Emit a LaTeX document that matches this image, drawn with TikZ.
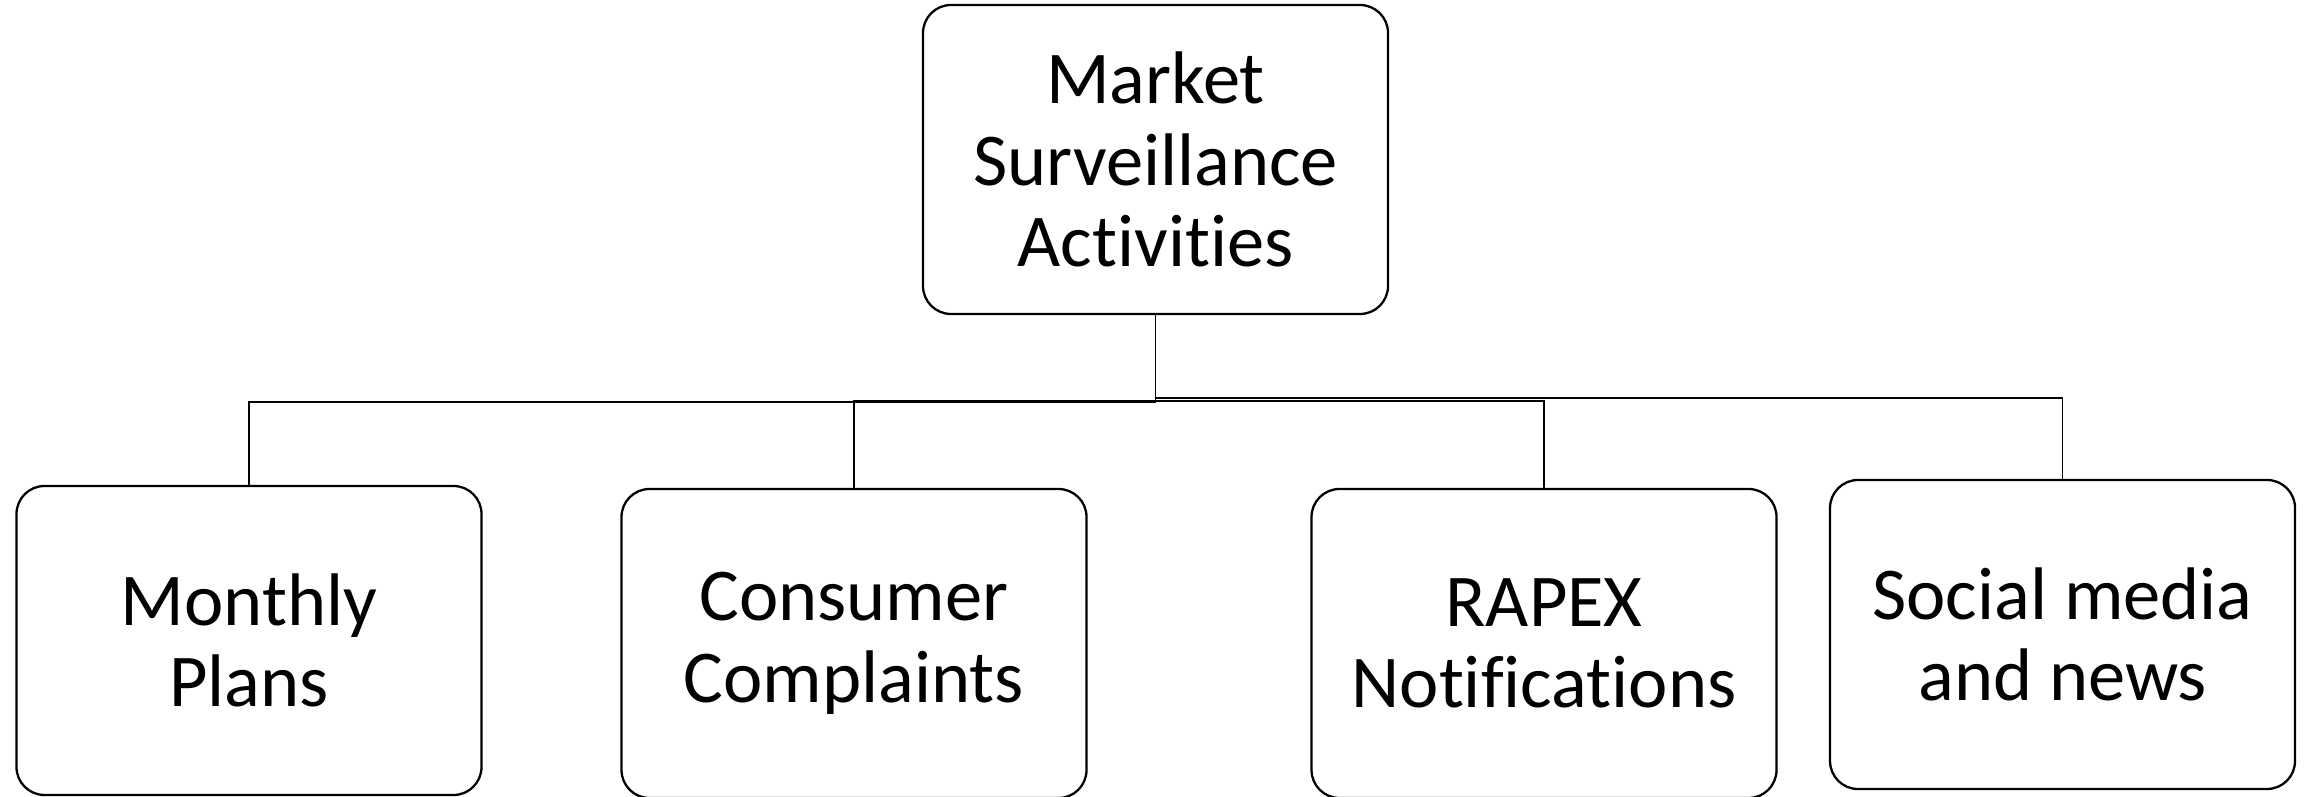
\documentclass[tikz,border=0pt]{standalone}
\usepackage{fontspec}
\setmainfont{Carlito}[RawFeature={-liga}]
\usepackage{tikz}
\usetikzlibrary{positioning}
\tikzstyle{actbox} = [draw, line width=0.65pt, rounded corners=0.28cm, minimum width=4.65cm, minimum height=3.09cm, align=center, inner sep=0pt, font=\fontsize{21.2}{23.2}\selectfont]
\tikzstyle{branch} = [line width=0.45pt]

\begin{document}
\begin{tikzpicture}
\useasboundingbox (0,0) rectangle (23.1,7.97);
% Top activity
\node[actbox] (market) at (11.555,6.375) {Market\\Surveillance\\Activities};

% Sources
\node[actbox] (monthly) at (2.49,1.565) {Monthly\\Plans};
\node[actbox] (consumer) at (8.54,1.535) {Consumer\\Complaints};
\node[actbox] (rapex) at (15.44,1.535) {RAPEX\\Notifications};
\node[actbox] (social) at (20.625,1.625) {Social media\\and news};

% Connectors
\draw[branch] (market.south) -- ++(0,-0.88);
\draw[branch] (market.south) -- ++(0,-0.87) -| (monthly.north);
\draw[branch] (market.south) -- ++(0,-0.83) -| (social.north);
\draw[branch] (consumer.north) -- ++(0,0.87) -| (rapex.north);
\end{tikzpicture}
\end{document}
